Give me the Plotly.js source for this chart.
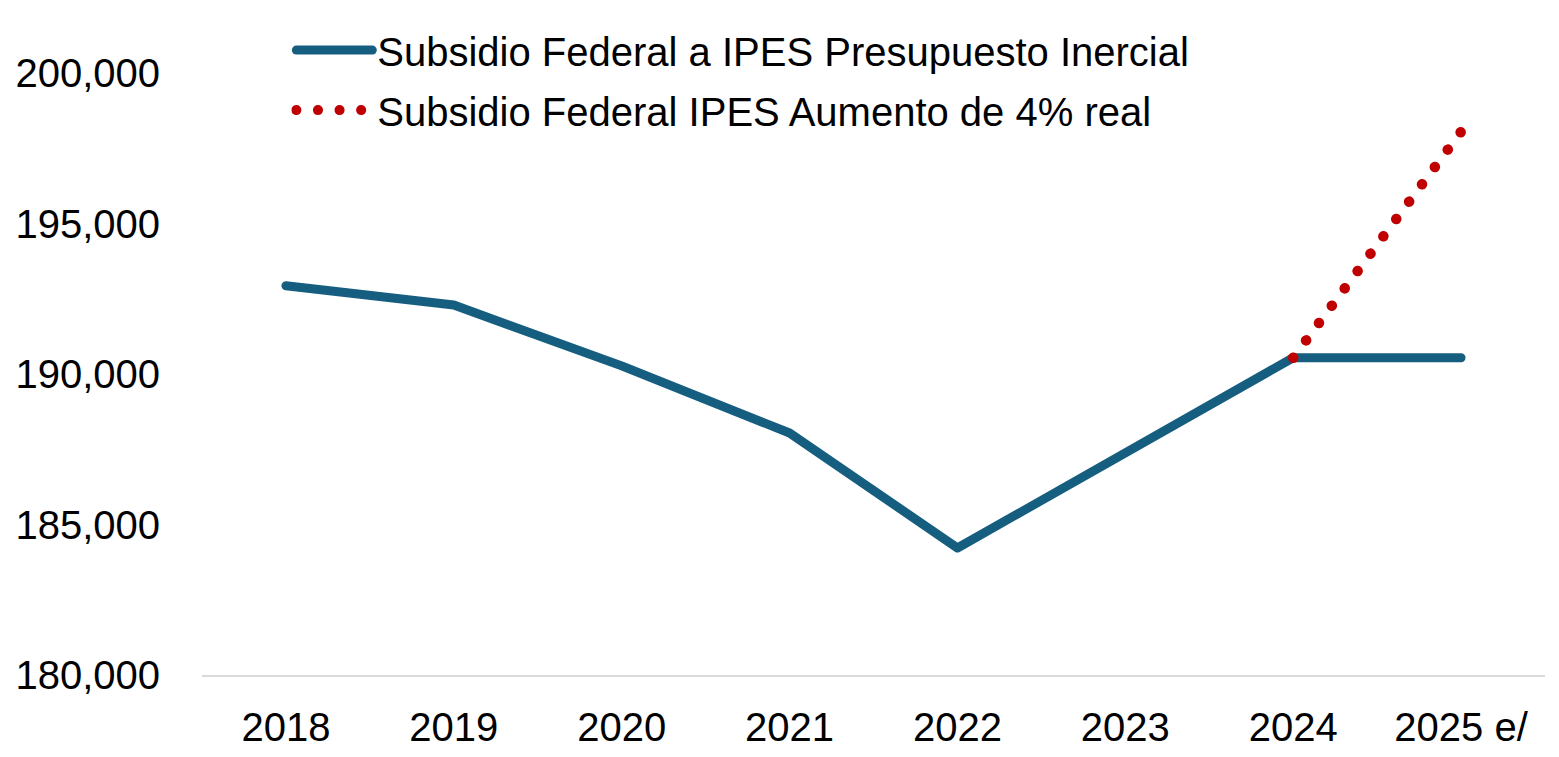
<!DOCTYPE html>
<html>
<head>
<meta charset="utf-8">
<script src="https://cdn.plot.ly/plotly-3.0.1.min.js"></script>
<style>
  html, body { margin: 0; padding: 0; background: #ffffff; }
  #chart { width: 1559px; height: 757px; }
</style>
</head>
<body>
<div id="chart"></div>
<script>
const categories = ["2018", "2019", "2020", "2021", "2022", "2023", "2024", "2025 e/"];
const seriesInercialName = "Subsidio Federal a IPES Presupuesto Inercial";
const seriesInercial = [192930, 192290, 190270, 188040, 184220, 187380, 190540, 190540];
const seriesAumentoName = "Subsidio Federal IPES Aumento de 4% real";
const seriesAumentoCats = ["2024", "2025 e/"];
const seriesAumento = [190540, 198050];
const yTickValues = [180000, 185000, 190000, 195000, 200000];

const FONT = '"Liberation Sans", Arial, sans-serif';
const FS = 40;

const traces = [
  {
    x: categories, y: seriesInercial, name: seriesInercialName,
    type: 'scatter', mode: 'lines',
    line: { color: '#165e80', width: 9 },
    legendgroup: 'a', hoverinfo: 'skip'
  },
  {
    x: seriesAumentoCats, y: seriesAumento, name: seriesAumentoName,
    type: 'scatter', mode: 'lines',
    line: { color: '#c00000', width: 10.5, dash: '10px,11.6px' },
    legendgroup: 'b', hoverinfo: 'skip'
  }
];

const layout = {
  width: 1559, height: 757,
  paper_bgcolor: '#ffffff', plot_bgcolor: '#ffffff',
  margin: { l: 202, r: 14, t: 73, b: 82, pad: 0 },
  font: { family: FONT, size: FS, color: '#000000' },
  showlegend: true,
  legend: {
    x: 0.0665, y: 1.092, xanchor: 'left', yanchor: 'top',
    orientation: 'v', traceorder: 'grouped', tracegroupgap: 5,
    itemwidth: 76,
    font: { family: FONT, size: FS, color: '#000000' },
    bgcolor: 'rgba(0,0,0,0)'
  },
  xaxis: {
    type: 'category', range: [-0.5, 7.5],
    showgrid: false, zeroline: false,
    showline: true, linecolor: '#d9d9d9', linewidth: 1.5,
    ticks: 'outside', ticklen: 16, tickcolor: 'rgba(0,0,0,0)',
    tickfont: { family: FONT, size: FS, color: '#000000' }
  },
  yaxis: {
    range: [180000, 200000],
    tickvals: yTickValues, tickformat: ',d',
    showgrid: false, zeroline: false, showline: false,
    ticks: 'outside', ticklen: 33, tickcolor: 'rgba(0,0,0,0)',
    tickfont: { family: FONT, size: FS, color: '#000000' }
  }
};

Plotly.newPlot('chart', traces, layout, { staticPlot: true, displayModeBar: false }).then(function (gd) {
  const paths = gd.querySelectorAll('.scatterlayer .trace path.js-line');
  paths.forEach(function (p, i) {
    p.style.strokeLinecap = 'round';
    p.style.strokeLinejoin = 'round';
    if (i === 1) p.style.strokeDasharray = '0.1px,21.5px';
  });
  const legendLines = gd.querySelectorAll('.legend .traces path.js-line');
  legendLines.forEach(function (p, i) {
    p.style.strokeLinecap = 'round';
    if (i === 1) p.style.strokeDasharray = '0.1px,21.5px';
  });
});
</script>
</body>
</html>
